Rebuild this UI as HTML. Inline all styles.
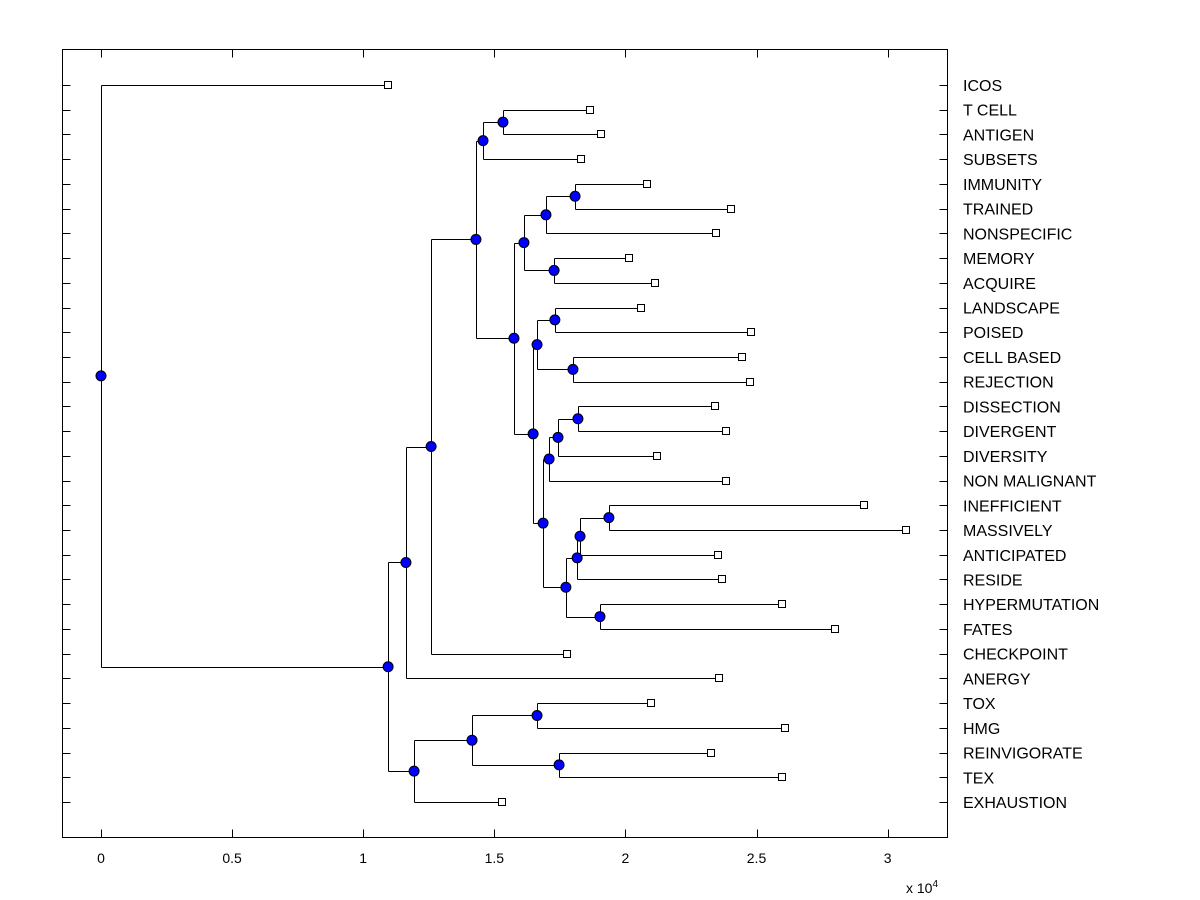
<!DOCTYPE html>
<html><head><meta charset="utf-8"><style>
body{margin:0;background:#fff;}
svg{display:block;font-family:"Liberation Sans",Arial,sans-serif;}
</style></head><body>
<svg id="chart" width="1200" height="900">
<rect x="0" y="0" width="1200" height="900" fill="#fff"/>
<rect x="62.5" y="49.5" width="885" height="788" fill="#fff" stroke="#000"/>
<g id="g-ticks"></g><g id="g-lines"></g><g id="g-marks"></g><g id="g-labels"></g>
<text x="906" y="893" font-size="14">x 10<tspan dy="-6" font-size="10">4</tspan></text>
</svg>
<script>
const leafNames=["ICOS","T CELL","ANTIGEN","SUBSETS","IMMUNITY","TRAINED","NONSPECIFIC","MEMORY","ACQUIRE","LANDSCAPE","POISED","CELL BASED","REJECTION","DISSECTION","DIVERGENT","DIVERSITY","NON MALIGNANT","INEFFICIENT","MASSIVELY","ANTICIPATED","RESIDE","HYPERMUTATION","FATES","CHECKPOINT","ANERGY","TOX","HMG","REINVIGORATE","TEX","EXHAUSTION"];
const leafValues=[1.095,1.865,1.907,1.831,2.082,2.403,2.346,2.014,2.113,2.06,2.479,2.445,2.475,2.342,2.384,2.12,2.384,2.91,3.07,2.353,2.368,2.597,2.8,1.777,2.357,2.098,2.609,2.326,2.597,1.529];
const mergeA=[1,30,4,32,7,33,9,11,36,13,39,40,17,42,43,21,44,41,38,35,31,50,51,25,27,53,55,52,0];
const mergeB=[2,3,5,6,8,34,10,12,37,14,15,16,18,19,20,22,45,46,47,48,49,23,24,26,28,54,29,56,57];
const mergeHeights=[1.533,1.457,1.808,1.697,1.728,1.613,1.731,1.80,1.663,1.819,1.743,1.709,1.937,1.827,1.816,1.903,1.773,1.686,1.648,1.575,1.43,1.259,1.163,1.663,1.747,1.415,1.194,1.095,0];
const xTicks=[0,0.5,1,1.5,2,2.5,3];
const xTickLabels=["0","0.5","1","1.5","2","2.5","3"];

const NS="http://www.w3.org/2000/svg";
const X0=101, XS=262.2, Y0=85, YS=(802-85)/29, L=62.5, R=947.5, T=49.5, B=837.5;
const xs=v=>X0+v*XS, ys=i=>Y0+i*YS;
function mk(tag,attrs,parent){const e=document.createElementNS(NS,tag);for(const k in attrs)e.setAttribute(k,attrs[k]);document.getElementById(parent).appendChild(e);return e;}

// ticks
xTicks.forEach((t,i)=>{
  const x=Math.round(xs(t))+0.5;
  let e=mk('line',{x1:x,x2:x,y1:B,y2:B-8,stroke:'#000'},'g-ticks');
  
  
  e=mk('line',{x1:x,x2:x,y1:T,y2:T+8,stroke:'#000'},'g-ticks');
  
  
  const tx=mk('text',{x:xs(t),y:863,'font-size':14,'text-anchor':'middle'},'g-labels');
  tx.textContent=xTickLabels[i];
  
  
});
leafNames.forEach((n,i)=>{
  const y=Math.round(ys(i))+0.5;
  let e=mk('line',{x1:L,x2:L+8,y1:y,y2:y,stroke:'#000'},'g-ticks');
  
  
  e=mk('line',{x1:R,x2:R-8,y1:y,y2:y,stroke:'#000'},'g-ticks');
  
  
  const tx=mk('text',{x:963,y:ys(i)+6,'font-size':16},'g-labels');
  tx.textContent=n;
  
  
});

// node positions
const nx=[],ny=[];
leafValues.forEach((v,i)=>{nx[i]=xs(v);ny[i]=ys(i);});
mergeA.forEach((a,k)=>{
  const id=leafNames.length+k,b=mergeB[k];
  nx[id]=xs(mergeHeights[k]);ny[id]=(ny[a]+ny[b])/2;
  const x=Math.round(nx[id])+0.5;
  let e=mk('line',{x1:x,x2:x,y1:Math.round(ny[a])+0.5,y2:Math.round(ny[b])+0.5,stroke:'#000'},'g-lines');
  
  
  [a,b].forEach(c=>{
    const h=mk('line',{x1:x,x2:nx[c],y1:Math.round(ny[c])+0.5,y2:Math.round(ny[c])+0.5,stroke:'#000'},'g-lines');
    
    
  });
});
leafValues.forEach((v,i)=>{
  const s=mk('rect',{x:Math.round(nx[i])-3.5,y:Math.round(ny[i])-3.5,width:7,height:7,fill:'#fff',stroke:'#000'},'g-marks');
  
  
});
mergeA.forEach((a,k)=>{
  const id=leafNames.length+k;
  const c=mk('circle',{cx:nx[id],cy:ny[id],r:5,fill:'#0000ff',stroke:'#000','stroke-width':1},'g-marks');
  
  
});
</script>
</body></html>
